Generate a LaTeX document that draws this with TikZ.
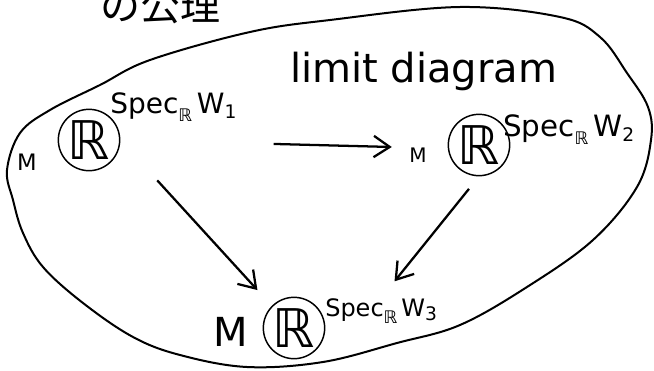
\documentclass[tikz,border=0pt]{standalone}
\usepackage{fontspec}
\setmainfont{DejaVu Sans}
\newfontfamily\jpfont{Noto Sans CJK JP}
\usetikzlibrary{arrows.meta}
\usetikzlibrary{positioning}
\tikzstyle{rnode}=[circle,draw,line width=1.1pt,minimum size=46pt,inner sep=0pt,font=\fontsize{40}{40}\selectfont]
\tikzstyle{mlabel}=[inner sep=0pt]
\tikzstyle{speclabel}=[inner sep=0pt,anchor=base west]
\tikzstyle{edge}=[draw,line width=1.7pt,-{Straight Barb[length=12pt,width=16pt]}]
\tikzstyle{blob}=[draw,line width=1.5pt]
\newcommand{\specw}[1]{Spec\raisebox{-0.3em}{\fontsize{13}{13}\selectfont ℝ}\,W\raisebox{-0.2em}{\fontsize{14}{14}\selectfont #1}}

\begin{document}
\begin{tikzpicture}[x=0.75pt,y=-0.75pt]
    \clip (0,0) rectangle (654,371);
    % heading, cut off at the top
    \node[anchor=base west,inner sep=0pt,font=\jpfont\fontsize{30}{30}\selectfont] (title) at (100,21) {の公理};
    \node[anchor=base west,inner sep=0pt,font=\fontsize{30}{30}\selectfont] (caption) at (290,82) {limit diagram};

    % the closed region round the diagram
    \draw[blob] plot[smooth cycle,tension=0.6] coordinates {(460,7) (560,17) (600,37) (627,73) (648,107) (651,140) (637,187) (593,240) (527,287) (460,325) (397,343) (323,362) (247,367) (180,355) (133,337) (83,303) (43,267) (23,233) (13,200) (7,170) (20,133) (50,110) (100,85) (150,60) (250,32) (330,20)};

    % circled R's
    \foreach \pos/\name in {{(89,140)/r1}, {(479,145)/r2}, {(294,328)/r3}}
        \node[rnode] (\name) at \pos {ℝ};

    % M on the left of each
    \foreach \pos/\name/\size in {{(27,162)/m1/17}, {(418,155)/m2/15}, {(231,332)/m3/30}}
        \node[mlabel,font=\fontsize{\size}{\size}\selectfont] (\name) at \pos {M};

    % Spec labels
    \foreach \pos/\name/\idx/\size in {{(110,113)/s1/1/21}, {(503,136)/s2/2/22}, {(325,316)/s3/3/18}}
        \node[speclabel,font=\fontsize{\size}{\size}\selectfont] (\name) at \pos {\specw{\idx}};

    % arrows
    \path[edge,shorten <=115pt,shorten >=13pt] (r1.east) -- (m2.north west);
    \path[edge,shorten <=41pt,shorten >=16pt] (r1.east) -- (r3.north west);
    \path[edge,shorten <=12pt,shorten >=16pt] (r2.south) -- (s3.north);
\end{tikzpicture}
\end{document}
